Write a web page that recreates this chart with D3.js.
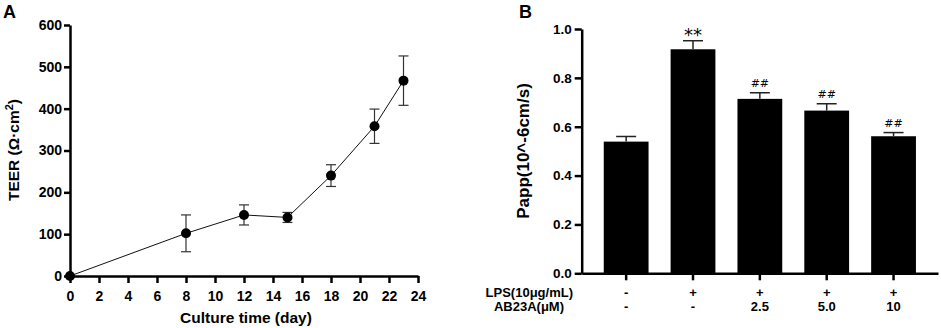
<!DOCTYPE html>
<html>
<head>
<meta charset="utf-8">
<script src="https://cdn.jsdelivr.net/npm/d3@7"></script>
<style>
  body { margin: 0; background: #fff; }
  svg { display: block; font-family: "Liberation Sans", Arial, sans-serif; }
  .axis path, .axis line { stroke: #000; stroke-width: 2.5; }
  .axis text { font-size: 14px; font-weight: bold; fill: #000; font-family: "Liberation Sans", Arial, sans-serif; }
</style>
</head>
<body>
<div id="chart"></div>
<script>
// ---- data, panel A
const days = [0, 8, 12, 15, 18, 21, 23];
const teer = [0, 102, 146, 140, 240, 358, 467];
const teerErr = [0, 44, 24, 12, 26, 41, 59];
const dayTicks = d3.range(0, 25, 2);
const teerTicks = [0, 100, 200, 300, 400, 500, 600];

// ---- data, panel B
const groups = ["g1", "g2", "g3", "g4", "g5"];
const papp = [0.539, 0.917, 0.714, 0.666, 0.561];
const pappErr = [0.021, 0.035, 0.025, 0.028, 0.015];
const marks = ["", "**", "##", "##", "##"];
const lpsRow = ["-", "+", "+", "+", "+"];
const abRow = ["-", "-", "2.5", "5.0", "10"];
const pappTicks = [0, 0.2, 0.4, 0.6, 0.8, 1.0];

const svg = d3.select("#chart").append("svg")
    .attr("width", 941)
    .attr("height", 328);

//*************** panel A
const xA = d3.scaleLinear().domain([0, 24]).range([70, 418]);
const yA = d3.scaleLinear().domain([0, 600]).range([276, 25]);

svg.append("g").attr("class", "axis")
    .attr("transform", "translate(0,276)")
    .call(d3.axisBottom(xA).tickValues(dayTicks).tickSize(7).tickSizeOuter(0).tickPadding(8));

svg.append("g").attr("class", "axis")
    .attr("transform", "translate(70,0)")
    .call(d3.axisLeft(yA).tickValues(teerTicks).tickSize(6).tickSizeOuter(0).tickPadding(2));

const ptsA = days.map((d, i) => ({ x: d, y: teer[i], e: teerErr[i] }));

svg.append("path")
    .datum(ptsA)
    .attr("fill", "none")
    .attr("stroke", "#111")
    .attr("stroke-width", 1)
    .attr("d", d3.line().x(d => xA(d.x)).y(d => yA(d.y)));

const errA = svg.append("g").attr("stroke", "#333").attr("stroke-width", 1.2);
ptsA.filter(d => d.e > 0).forEach(d => {
    const cx = xA(d.x);
    errA.append("line").attr("x1", cx).attr("x2", cx).attr("y1", yA(d.y + d.e)).attr("y2", yA(d.y - d.e));
    errA.append("line").attr("x1", cx - 5).attr("x2", cx + 5).attr("y1", yA(d.y + d.e)).attr("y2", yA(d.y + d.e));
    errA.append("line").attr("x1", cx - 5).attr("x2", cx + 5).attr("y1", yA(d.y - d.e)).attr("y2", yA(d.y - d.e));
});

svg.append("g").selectAll("circle")
    .data(ptsA)
    .join("circle")
    .attr("cx", d => xA(d.x))
    .attr("cy", d => yA(d.y))
    .attr("r", 5)
    .attr("fill", "#000");

svg.append("text")
    .attr("x", 246).attr("y", 323)
    .attr("text-anchor", "middle")
    .style("font-size", "15.5px").style("font-weight", "bold")
    .text("Culture time (day)");

const yTitleA = svg.append("text")
    .attr("transform", "translate(19,150) rotate(-90)")
    .attr("text-anchor", "middle")
    .style("font-size", "15.5px").style("font-weight", "bold");
yTitleA.append("tspan").text("TEER (Ω·cm");
yTitleA.append("tspan").attr("dy", -6).style("font-size", "11px").text("2");
yTitleA.append("tspan").attr("dy", 6).text(")");

svg.append("text")
    .attr("x", 3).attr("y", 18)
    .style("font-size", "18px").style("font-weight", "bold")
    .text("A");

//*************** panel B
const xB = d3.scaleBand().domain(groups).range([581.7, 938]).padding(0.33);
const yB = d3.scaleLinear().domain([0, 1]).range([273.3, 29]);

svg.append("g").selectAll("rect")
    .data(groups)
    .join("rect")
    .attr("x", d => xB(d))
    .attr("y", (d, i) => yB(papp[i]))
    .attr("width", xB.bandwidth())
    .attr("height", (d, i) => yB(0) - yB(papp[i]))
    .attr("fill", "#000");

const errB = svg.append("g").attr("stroke", "#222").attr("stroke-width", 1.5);
groups.forEach((g, i) => {
    const cx = xB(g) + xB.bandwidth() / 2;
    const top = yB(papp[i] + pappErr[i]);
    errB.append("line").attr("x1", cx).attr("x2", cx).attr("y1", top).attr("y2", yB(papp[i]));
    errB.append("line").attr("x1", cx - 10).attr("x2", cx + 10).attr("y1", top).attr("y2", top);
});

svg.append("g").attr("class", "axis")
    .attr("transform", "translate(0,273.3)")
    .call(d3.axisBottom(xB).tickSize(7).tickSizeOuter(0).tickFormat(""));

svg.append("g").attr("class", "axis")
    .attr("transform", "translate(581.7,0)")
    .call(d3.axisLeft(yB).tickValues(pappTicks).tickFormat(d3.format(".1f")).tickSize(7).tickSizeOuter(0).tickPadding(3))
    .selectAll("text").style("font-size", "13.5px");

svg.append("g").selectAll("text")
    .data(groups)
    .join("text")
    .attr("x", d => xB(d) + xB.bandwidth() / 2)
    .attr("y", (d, i) => yB(papp[i] + pappErr[i]) - (marks[i] === "**" ? 0 : 6))
    .attr("text-anchor", "middle")
    .style("font-size", (d, i) => marks[i] === "**" ? "18px" : "11px")
    .style("font-family", "'DejaVu Sans', sans-serif")
    .text((d, i) => marks[i]);

svg.append("g").selectAll("text")
    .data(groups)
    .join("text")
    .attr("x", d => xB(d) + xB.bandwidth() / 2)
    .attr("y", 296.5)
    .attr("text-anchor", "middle")
    .style("font-size", "13px").style("font-weight", "bold")
    .text((d, i) => lpsRow[i]);

svg.append("g").selectAll("text")
    .data(groups)
    .join("text")
    .attr("x", d => xB(d) + xB.bandwidth() / 2)
    .attr("y", 311)
    .attr("text-anchor", "middle")
    .style("font-size", "13px").style("font-weight", "bold")
    .text((d, i) => abRow[i]);

svg.append("text")
    .attr("x", 573).attr("y", 296.5)
    .attr("text-anchor", "end")
    .style("font-size", "13px").style("font-weight", "bold")
    .text("LPS(10μg/mL)");

svg.append("text")
    .attr("x", 564).attr("y", 311)
    .attr("text-anchor", "end")
    .style("font-size", "13px").style("font-weight", "bold")
    .text("AB23A(μM)");

svg.append("text")
    .attr("transform", "translate(529,151) rotate(-90)")
    .attr("text-anchor", "middle")
    .style("font-size", "17px").style("font-weight", "bold")
    .text("Papp(10^-6cm/s)");

svg.append("text")
    .attr("x", 519).attr("y", 18)
    .style("font-size", "18px").style("font-weight", "bold")
    .text("B");
</script>
</body>
</html>
